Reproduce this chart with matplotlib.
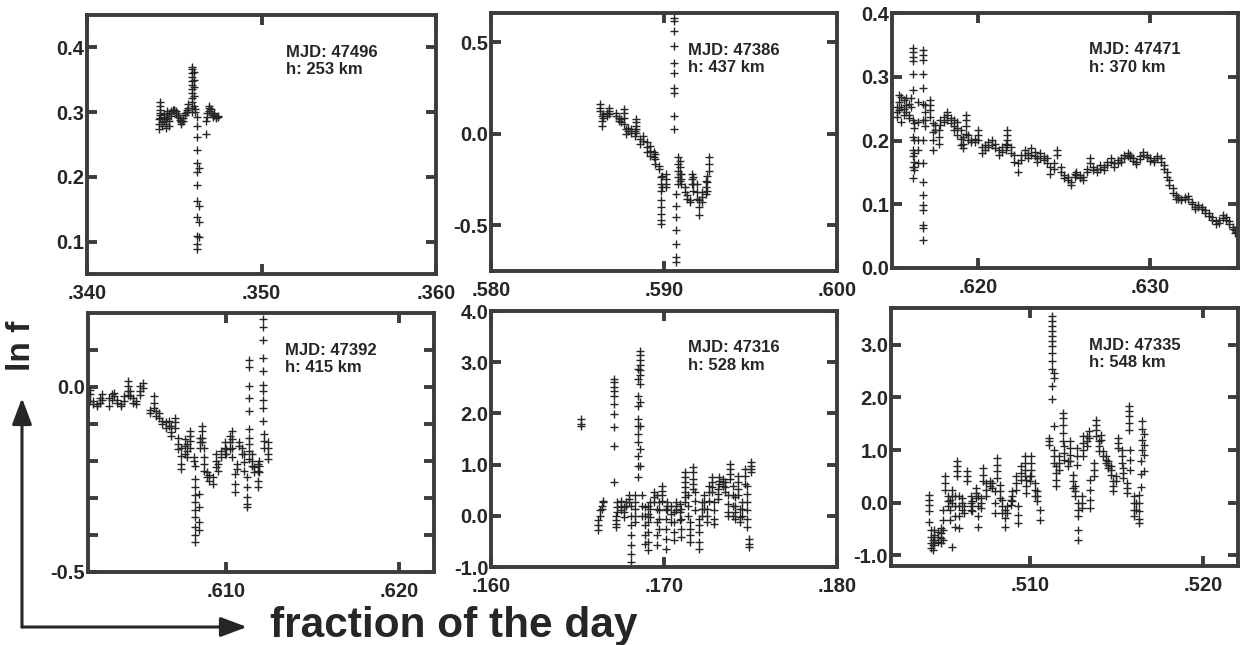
import matplotlib
matplotlib.use('Agg')
import matplotlib.pyplot as plt

plt.rcParams['font.family'] = ['Liberation Sans', 'DejaVu Sans']
plt.rcParams['font.weight'] = 'bold'
plt.rcParams['axes.unicode_minus'] = False

INK = '#262626'
FRAME = '#3c3c3c'

# ---- MJD 47496, h 253 km ----
p1_time = [0.3441, 0.3442, 0.3443, 0.3444, 0.3445, 0.3446, 0.3447, 0.3448, 0.3449, 0.3450,
           0.3451, 0.3452, 0.3453, 0.3454, 0.3455, 0.3456, 0.3457, 0.3458, 0.3460, 0.3461,
           0.3462, 0.3463, 0.3464, 0.3468, 0.3469, 0.3470, 0.3471, 0.3472, 0.3473, 0.3474,
           0.3475]
p1_lnf = [
    [0.274, 0.281, 0.289], [0.296, 0.303, 0.309, 0.315, 0.299, 0.291], [0.284, 0.279],
    [0.287, 0.293, 0.297], [0.289, 0.282, 0.276], [0.291, 0.297, 0.301], [0.298, 0.286, 0.279],
    [0.294, 0.301], [0.303, 0.302], [0.304, 0.303],
    [0.301, 0.298], [0.296, 0.293], [0.291, 0.288], [0.286, 0.284, 0.282], [0.287, 0.291],
    [0.295, 0.298], [0.300, 0.303], [0.307, 0.313],
    [0.300, 0.307, 0.315, 0.322, 0.329, 0.336, 0.342, 0.348, 0.354, 0.360, 0.366, 0.370],
    [0.310, 0.325, 0.338, 0.350, 0.362],
    [0.305, 0.300],
    [0.293, 0.278, 0.261, 0.242, 0.222, 0.208, 0.188, 0.162, 0.138, 0.108, 0.096, 0.088],
    [0.214, 0.155, 0.130, 0.107],
    [0.266, 0.286], [0.292, 0.298], [0.302, 0.307, 0.310], [0.305, 0.299], [0.296, 0.293],
    [0.298, 0.295], [0.293, 0.291], [0.294, 0.292],
]

# ---- MJD 47386, h 437 km ----
p2_time = [0.5863, 0.5864, 0.5865, 0.5867, 0.5868, 0.5872, 0.5874, 0.5875, 0.5877, 0.5878,
           0.5879, 0.5881, 0.5883, 0.5884, 0.5886, 0.5888, 0.5890, 0.5892, 0.5894, 0.5895,
           0.5897, 0.5898, 0.5899, 0.5901, 0.5906, 0.5907, 0.5908, 0.5909, 0.5910, 0.5912,
           0.5913, 0.5915, 0.5916, 0.5917, 0.5919, 0.5920, 0.5922, 0.5924, 0.5925, 0.5926]
p2_lnf = [
    [0.161, 0.143, 0.125], [0.098, 0.071, 0.043], [0.107, 0.089], [0.116, 0.098],
    [0.143, 0.125, 0.107], [0.116, 0.098], [0.089, 0.071], [0.062, 0.080],
    [0.134, 0.116, 0.089, 0.052], [0.025, -0.002],
    [0.034, 0.016], [0.025, 0.007], [0.016, -0.011], [0.080, 0.062, 0.043, 0.025, 0.007],
    [-0.029, -0.056], [-0.011, -0.038], [-0.047, -0.074, -0.102], [-0.065, -0.092, -0.120],
    [-0.102, -0.129], [-0.111, -0.138, -0.165],
    [-0.174, -0.192], [-0.237, -0.274, -0.310, -0.364, -0.401, -0.437, -0.473, -0.491],
    [-0.228, -0.292], [-0.219, -0.246, -0.274, -0.292],
    [0.632, 0.614, 0.560, 0.478, 0.388, 0.333, 0.252, 0.225, 0.098, 0.025],
    [-0.328, -0.392, -0.455, -0.527, -0.600, -0.672, -0.700],
    [-0.129, -0.165, -0.201, -0.237, -0.274], [-0.147, -0.183, -0.219, -0.256],
    [-0.219, -0.246, -0.274], [-0.292, -0.319],
    [-0.337, -0.355], [-0.364, -0.373], [-0.219, -0.246, -0.274], [-0.237, -0.274, -0.310],
    [-0.274, -0.319, -0.355], [-0.364, -0.401, -0.446], [-0.319, -0.346, -0.373],
    [-0.256, -0.292, -0.328], [-0.228, -0.265, -0.310], [-0.129, -0.165, -0.201],
]

# ---- MJD 47471, h 370 km ----
p3_time = [0.6153, 0.6154, 0.6155, 0.6157, 0.6158, 0.6160, 0.6161, 0.6162, 0.6163, 0.6165,
           0.6168, 0.6169, 0.6172, 0.6174, 0.6175, 0.6177, 0.6178, 0.6180, 0.6182, 0.6184,
           0.6186, 0.6188, 0.6190, 0.6191, 0.6193, 0.6194, 0.6196, 0.6198, 0.6200, 0.6202,
           0.6204, 0.6206, 0.6208, 0.6210, 0.6212, 0.6214, 0.6216, 0.6217, 0.6219, 0.6221,
           0.6223, 0.6225, 0.6227, 0.6229, 0.6231, 0.6233, 0.6234, 0.6236, 0.6238, 0.6240,
           0.6242, 0.6244, 0.6246, 0.6248, 0.6250, 0.6252, 0.6254, 0.6256, 0.6257, 0.6259,
           0.6261, 0.6263, 0.6265, 0.6267, 0.6269, 0.6271, 0.6273, 0.6275, 0.6277, 0.6279,
           0.6281, 0.6283, 0.6285, 0.6287, 0.6288, 0.6290, 0.6292, 0.6294, 0.6296, 0.6298,
           0.6300, 0.6302, 0.6304, 0.6306, 0.6308, 0.6310, 0.6311, 0.6313, 0.6315, 0.6316,
           0.6318, 0.6320, 0.6322, 0.6324, 0.6326, 0.6328, 0.6330, 0.6332, 0.6334, 0.6336,
           0.6338, 0.6340, 0.6342, 0.6344, 0.6346, 0.6348, 0.6349, 0.6350]
p3_lnf = [
    [0.253, 0.245, 0.237], [0.271, 0.261, 0.248], [0.269, 0.253, 0.229], [0.263, 0.250, 0.240],
    [0.266, 0.256, 0.245], [0.258, 0.240, 0.235], [0.266, 0.253],
    [0.345, 0.339, 0.331, 0.324, 0.305, 0.279, 0.232, 0.206, 0.185, 0.175, 0.159, 0.141],
    [0.227, 0.219, 0.201, 0.180, 0.167, 0.159, 0.154], [0.261, 0.229, 0.201, 0.185, 0.164],
    [0.342, 0.334, 0.326, 0.305, 0.282, 0.258, 0.232, 0.201, 0.164, 0.135, 0.114, 0.099,
     0.091, 0.067, 0.062, 0.044],
    [0.256, 0.245, 0.232, 0.222], [0.264, 0.256, 0.248, 0.237], [0.227, 0.214, 0.201, 0.185],
    [0.224, 0.216], [0.216, 0.206, 0.195], [0.232, 0.224], [0.237, 0.229], [0.245, 0.240, 0.232],
    [0.235, 0.227],
    [0.232, 0.222, 0.216], [0.229, 0.219, 0.209], [0.216, 0.203, 0.193], [0.206, 0.195, 0.188],
    [0.240, 0.232, 0.222, 0.211], [0.209, 0.201], [0.201, 0.197], [0.203, 0.198],
    [0.216, 0.209, 0.201], [0.190, 0.180],
    [0.193, 0.185], [0.198, 0.190], [0.201, 0.193], [0.195, 0.188], [0.185, 0.177],
    [0.190, 0.182], [0.195, 0.185], [0.216, 0.209, 0.201, 0.193], [0.190, 0.180], [0.177, 0.167],
    [0.164, 0.151], [0.177, 0.169], [0.185, 0.177], [0.180, 0.172], [0.188, 0.177],
    [0.182, 0.175], [0.172, 0.167], [0.180, 0.172], [0.175, 0.169], [0.172, 0.164],
    [0.159, 0.148], [0.164, 0.156], [0.185, 0.177], [0.159, 0.151], [0.146, 0.141],
    [0.143, 0.138], [0.135, 0.130], [0.148, 0.143], [0.151, 0.146], [0.146, 0.141],
    [0.143, 0.138], [0.156, 0.151], [0.172, 0.164], [0.159, 0.154], [0.156, 0.151],
    [0.161, 0.156], [0.159, 0.154], [0.167, 0.161], [0.172, 0.167], [0.164, 0.159],
    [0.169, 0.164], [0.172, 0.167], [0.177, 0.172], [0.180, 0.175], [0.177, 0.174],
    [0.172, 0.168], [0.167, 0.163], [0.175, 0.171], [0.182, 0.177], [0.177, 0.174],
    [0.172, 0.168], [0.170, 0.167], [0.176, 0.172], [0.172, 0.167], [0.161, 0.156],
    [0.151, 0.143], [0.138, 0.130], [0.125, 0.117], [0.114, 0.109], [0.112, 0.108],
    [0.109, 0.106], [0.112, 0.108], [0.113, 0.109], [0.104, 0.100], [0.096, 0.092],
    [0.099, 0.095], [0.096, 0.092], [0.091, 0.087], [0.086, 0.082], [0.080, 0.076],
    [0.073, 0.069], [0.075, 0.071], [0.083, 0.079], [0.080, 0.076], [0.073, 0.069],
    [0.065, 0.061], [0.060, 0.055], [0.057],
]

# ---- MJD 47392, h 415 km ----
p4_time = [0.6021, 0.6023, 0.6025, 0.6027, 0.6028, 0.6032, 0.6034, 0.6035, 0.6037, 0.6039,
           0.6041, 0.6043, 0.6044, 0.6046, 0.6048, 0.6050, 0.6052, 0.6056, 0.6058, 0.6059,
           0.6061, 0.6063, 0.6065, 0.6067, 0.6068, 0.6070, 0.6072, 0.6074, 0.6076, 0.6077,
           0.6079, 0.6081, 0.6082, 0.6084, 0.6085, 0.6086, 0.6087, 0.6089, 0.6090, 0.6092,
           0.6094, 0.6095, 0.6097, 0.6099, 0.6100, 0.6102, 0.6103, 0.6105, 0.6106, 0.6107,
           0.6109, 0.6110, 0.6112, 0.6113, 0.6115, 0.6116, 0.6118, 0.6119, 0.6121, 0.6122,
           0.6124]
p4_lnf = [
    [-0.007, -0.020, -0.038], [-0.038, -0.047], [-0.047, -0.052], [-0.029, -0.043],
    [-0.020, -0.034], [-0.029, -0.052], [-0.020, -0.034], [-0.016, -0.025], [-0.034, -0.043],
    [-0.047, -0.052],
    [-0.025, -0.038], [0.015, 0.002, -0.011, -0.022], [-0.011, -0.025], [-0.029, -0.043],
    [-0.038, -0.045], [0.002, -0.011, -0.022], [0.011, -0.003], [-0.061, -0.070],
    [-0.025, -0.043, -0.056], [-0.065, -0.079],
    [-0.070, -0.083], [-0.092, -0.101], [-0.096, -0.110], [-0.092, -0.105],
    [-0.105, -0.123, -0.132], [-0.083, -0.096, -0.110], [-0.137, -0.154, -0.168],
    [-0.164, -0.186, -0.208, -0.222], [-0.141, -0.159, -0.181], [-0.154, -0.172, -0.190],
    [-0.119, -0.132, -0.146, -0.164], [-0.190, -0.199],
    [-0.213, -0.248, -0.271, -0.293, -0.311, -0.333, -0.351, -0.378, -0.400, -0.418],
    [-0.289, -0.324, -0.365, -0.387], [-0.137, -0.150, -0.164], [-0.105, -0.119, -0.137, -0.150],
    [-0.164, -0.190, -0.208, -0.226], [-0.230, -0.244], [-0.239, -0.253], [-0.244, -0.262],
    [-0.181, -0.199, -0.217], [-0.208, -0.226], [-0.172, -0.190], [-0.150, -0.164, -0.181],
    [-0.168, -0.181], [-0.132, -0.150, -0.168], [-0.119, -0.141, -0.164, -0.190],
    [-0.235, -0.262, -0.284], [-0.208, -0.222], [-0.150, -0.159],
    [-0.164, -0.181], [-0.181, -0.204, -0.226], [-0.244, -0.271, -0.298, -0.315, -0.324],
    [0.073, 0.055, 0.002, -0.029, -0.065, -0.114, -0.137, -0.154, -0.172, -0.195],
    [-0.181, -0.199, -0.213], [-0.217, -0.230], [-0.208, -0.226, -0.253, -0.271],
    [-0.199, -0.213, -0.230],
    [0.185, 0.163, 0.127, 0.078, 0.042, 0.006, -0.011, -0.034, -0.056, -0.092],
    [-0.128, -0.146, -0.164], [-0.150, -0.164, -0.181, -0.195],
]

# ---- MJD 47316, h 528 km ----
p5_time = [0.1652, 0.1662, 0.1663, 0.1664, 0.1665, 0.1671, 0.1672, 0.1673, 0.1675, 0.1677,
           0.1678, 0.1680, 0.1681, 0.1683, 0.1685, 0.1686, 0.1687, 0.1689, 0.1691, 0.1692,
           0.1694, 0.1696, 0.1697, 0.1699, 0.1701, 0.1702, 0.1704, 0.1706, 0.1707, 0.1709,
           0.1710, 0.1712, 0.1714, 0.1715, 0.1717, 0.1718, 0.1720, 0.1722, 0.1723, 0.1725,
           0.1726, 0.1728, 0.1729, 0.1731, 0.1732, 0.1734, 0.1735, 0.1737, 0.1738, 0.1740,
           0.1741, 0.1743, 0.1744, 0.1745, 0.1747, 0.1748, 0.1749, 0.1750]
p5_lnf = [
    [1.893, 1.795, 1.749], [-0.286, -0.189, -0.091], [0.006, 0.104], [0.136, 0.201],
    [0.267, 0.299],
    [2.673, 2.608, 2.510, 2.445, 2.348, 2.185, 1.990, 1.730, 1.372, 0.657],
    [0.006, -0.091, -0.156, -0.221], [0.267, 0.169, 0.071], [0.299, 0.201, 0.104],
    [0.169, 0.071, -0.026],
    [0.267, 0.201], [0.397, 0.331, 0.267], [0.201, 0.006, -0.189, -0.384, -0.579, -0.742, -0.904],
    [0.397, 0.267, 0.136, 0.006, -0.124],
    [2.868, 2.673, 2.348, 2.153, 1.892, 1.762, 1.600, 1.437, 1.177, 0.982, 0.754],
    [3.22, 3.15, 3.05, 2.95, 2.85, 2.75, 2.575, 2.218, 1.762, 1.307, 0.982],
    [0.397, 0.201, 0.006], [0.169, 0.006, -0.189, -0.384, -0.547],
    [0.201, 0.039, -0.124, -0.319, -0.514, -0.677], [0.267, 0.136, -0.026],
    [0.462, 0.364, 0.267], [0.397, 0.136, -0.124, -0.384, -0.579], [0.267, 0.104, -0.059, -0.254],
    [0.592, 0.494, 0.397, 0.299], [0.136, -0.059, -0.254, -0.449, -0.644], [0.267, 0.201, 0.104],
    [0.201, 0.039, -0.124], [0.071, -0.124, -0.319, -0.482], [0.267, 0.201, 0.104],
    [0.234, 0.071, -0.091],
    [0.136, -0.059, -0.254, -0.417], [0.852, 0.754, 0.657, 0.559, 0.462, 0.364, 0.267],
    [0.397, 0.201, 0.006], [-0.124, -0.254, -0.384, -0.514], [0.950, 0.852, 0.722, 0.624, 0.527],
    [0.462, 0.299, 0.104], [-0.059, -0.189, -0.319, -0.514, -0.644], [0.267, 0.136, 0.006],
    [0.397, 0.267, 0.136], [0.136, 0.006, -0.124],
    [0.592, 0.462, 0.299], [0.754, 0.657, 0.559, 0.462], [0.267, 0.104, -0.059, -0.156],
    [0.527, 0.429, 0.332], [0.754, 0.689, 0.624], [0.722, 0.657, 0.592], [0.657, 0.559, 0.462],
    [0.397, 0.234, 0.071, 0.006], [1.014, 0.917, 0.819, 0.722], [0.592, 0.397, 0.201, 0.006],
    [0.364, 0.201, 0.071, -0.059], [0.787, 0.657, 0.527, 0.397], [0.136, -0.026, -0.124],
    [0.267, 0.136, 0.006], [0.917, 0.787, 0.624], [0.592, 0.429, 0.267, 0.104, -0.059, -0.221],
    [-0.449, -0.547, -0.612], [1.047, 0.982, 0.917, 0.852],
]

# ---- MJD 47335, h 548 km ----
p6_time = [0.5042, 0.5043, 0.5044, 0.5045, 0.5047, 0.5049, 0.5050, 0.5051, 0.5053, 0.5054,
           0.5055, 0.5057, 0.5058, 0.5059, 0.5061, 0.5062, 0.5064, 0.5066, 0.5067, 0.5069,
           0.5070, 0.5072, 0.5073, 0.5075, 0.5077, 0.5078, 0.5080, 0.5081, 0.5083, 0.5084,
           0.5086, 0.5087, 0.5089, 0.5090, 0.5092, 0.5093, 0.5095, 0.5097, 0.5098, 0.5100,
           0.5101, 0.5103, 0.5104, 0.5106, 0.5111, 0.5113, 0.5114, 0.5115, 0.5117, 0.5119,
           0.5120, 0.5122, 0.5123, 0.5125, 0.5126, 0.5127, 0.5128, 0.5130, 0.5131, 0.5133,
           0.5134, 0.5135, 0.5137, 0.5138, 0.5140, 0.5141, 0.5142, 0.5144, 0.5145, 0.5147,
           0.5148, 0.5150, 0.5151, 0.5153, 0.5154, 0.5156, 0.5157, 0.5158, 0.5160, 0.5161,
           0.5163, 0.5164, 0.5165, 0.5166]
p6_lnf = [
    [0.152, 0.057, -0.038, -0.165, -0.356], [-0.514, -0.641, -0.768, -0.863],
    [-0.705, -0.800, -0.895], [-0.514, -0.609, -0.705, -0.768], [-0.546, -0.641, -0.736],
    [-0.483, -0.578, -0.673, -0.768], [-0.133, -0.324, -0.514, -0.705], [0.501, 0.375, 0.248],
    [0.120, 0.025, -0.070], [0.057, -0.133, -0.324],
    [0.248, 0.120, -0.006, -0.832], [0.120, -0.070, -0.260, -0.451], [0.787, 0.692, 0.597, 0.501],
    [0.120, -0.070, -0.260, -0.483], [0.089, -0.006, -0.133], [-0.070, -0.197],
    [0.597, 0.501, 0.406], [0.120, -0.006, -0.133], [0.025, -0.070, -0.165], [0.279, 0.184, 0.089],
    [0.120, -0.070, -0.260, -0.451], [0.089, -0.006, -0.101], [0.660, 0.533, 0.406],
    [0.375, 0.248, 0.120], [0.406, 0.311], [0.375, 0.279], [0.216, -0.006, -0.197],
    [0.851, 0.724, 0.597, 0.470], [0.343, 0.216, 0.089], [0.057, -0.070, -0.197],
    [-0.133, -0.292, -0.451], [-0.070, -0.197], [0.057, -0.038], [0.216, 0.120, 0.025],
    [0.501, 0.375, 0.248], [-0.070, -0.229, -0.387], [0.692, 0.565, 0.438],
    [0.882, 0.755, 0.628, 0.501], [0.438, 0.311, 0.184], [0.501, 0.406],
    [0.882, 0.755, 0.628, 0.501], [0.375, 0.248, 0.120], [0.216, 0.120, 0.025], [-0.133, -0.324],
    [1.232, 1.168, 1.105],
    [3.549, 3.454, 3.359, 3.263, 3.168, 3.073, 2.978, 2.851, 2.692, 2.533, 2.216, 1.962],
    [2.470, 2.375, 1.454, 1.009, 0.882, 0.755], [0.692, 0.565, 0.438, 0.311],
    [0.882, 0.755, 0.628], [1.708, 1.613, 1.486, 1.327, 1.168],
    [1.073, 0.946, 0.819], [0.787, 0.692], [1.168, 1.041, 0.914, 0.787], [0.533, 0.406, 0.279],
    [0.311, 0.216, 0.120], [1.041, 0.882, 0.724], [-0.006, -0.133, -0.260, -0.514, -0.705],
    [0.120, -0.006, -0.101], [1.263, 1.136, 1.009, 0.882], [1.263, 1.168, 1.073],
    [1.359, 1.232], [0.438, 0.248, 0.057, -0.101], [0.755, 0.628, 0.501],
    [1.581, 1.486, 1.391, 1.263], [1.168, 1.073, 0.978], [1.295, 1.200], [0.978, 0.882],
    [0.882, 0.819, 0.755], [0.787, 0.724, 0.660], [0.692, 0.628, 0.533],
    [0.406, 0.311, 0.216], [0.501, 0.406], [1.232, 1.136, 1.041], [1.009, 0.882, 0.755],
    [0.660, 0.565, 0.470], [0.375, 0.279, 0.184], [1.835, 1.740, 1.644, 1.517, 1.390],
    [1.009, 0.819, 0.628], [0.120, -0.006, -0.133, -0.260], [-0.006, -0.133],
    [0.15, 0.0, -0.15, -0.30, -0.38], [0.30, 0.55, 0.80], [1.0, 1.2, 1.4, 1.55],
    [1.3, 1.1, 0.9, 0.6],
]

labels = ['MJD: 47496\nh: 253 km', 'MJD: 47386\nh: 437 km', 'MJD: 47471\nh: 370 km',
          'MJD: 47392\nh: 415 km', 'MJD: 47316\nh: 528 km', 'MJD: 47335\nh: 548 km']


def day_label(v):
    # '.340' style, no leading zero
    return ('%.3f' % v)[1:]


def draw_panel(rect, times, lnf, xlim, xticks, ylim, yticks, ylabels, label):
    ax = fig.add_axes(rect)
    for t, vals in zip(times, lnf):
        ax.plot([t] * len(vals), vals, '+', ms=5.5, mew=1.0, color=INK)
    ax.set_xlim(xlim)
    ax.set_ylim(ylim)
    ax.set_xticks(xticks)
    ax.set_xticklabels([day_label(v) for v in xticks])
    ax.set_yticks(yticks)
    ax.set_yticklabels(ylabels)
    ax.tick_params(direction='in', length=7, width=2.8, color=FRAME,
                   top=True, right=True, labelsize=14.5, labelcolor=INK)
    ax.tick_params(axis='x', pad=7)
    ax.tick_params(axis='y', pad=2)
    for sp in ax.spines.values():
        sp.set_linewidth(2.8)
        sp.set_color(FRAME)
    ax.text(0.57, 0.885, label, transform=ax.transAxes, fontsize=12, fontweight='bold',
            va='top', ha='left', color=INK, linespacing=1.2)
    return ax


fig = plt.figure(figsize=(12.4, 6.45), dpi=100)

draw_panel([0.0702, 0.5752, 0.2815, 0.4016], p1_time, p1_lnf,
           (0.340, 0.360), [0.340, 0.350, 0.360],
           (0.05, 0.45), [0.1, 0.2, 0.3, 0.4], ['0.1', '0.2', '0.3', '0.4'], labels[0])
draw_panel([0.3960, 0.5798, 0.2790, 0.4000], p2_time, p2_lnf,
           (0.580, 0.600), [0.580, 0.590, 0.600],
           (-0.75, 0.66), [-0.5, 0.0, 0.5], ['-0.5', '0.0', '0.5'], labels[1])
draw_panel([0.7194, 0.5845, 0.2790, 0.3953], p3_time, p3_lnf,
           (0.615, 0.6351), [0.620, 0.630],
           (0.0, 0.4), [0.0, 0.1, 0.2, 0.3, 0.4], ['0.0', '0.1', '0.2', '0.3', '0.4'], labels[2])
draw_panel([0.0710, 0.1132, 0.2790, 0.4016], p4_time, p4_lnf,
           (0.602, 0.622), [0.610, 0.620],
           (-0.5, 0.2), [-0.5, -0.4, -0.3, -0.2, -0.1, 0.0, 0.1],
           ['-0.5', '', '', '', '', '0.0', ''], labels[3])
draw_panel([0.3960, 0.1209, 0.2790, 0.3969], p5_time, p5_lnf,
           (0.160, 0.180), [0.160, 0.170, 0.180],
           (-1.0, 4.0), [-1, 0, 1, 2, 3, 4], ['-1.0', '0.0', '1.0', '2.0', '3.0', '4.0'], labels[4])
draw_panel([0.7185, 0.1225, 0.2798, 0.4000], p6_time, p6_lnf,
           (0.502, 0.522), [0.510, 0.520],
           (-1.2, 3.7), [-1, 0, 1, 2, 3], ['-1.0', '0.0', '1.0', '2.0', '3.0'], labels[5])

# axis arrows and captions
corner = (22 / 1240, 1 - 627 / 645)
head = dict(arrowstyle='-|>,head_length=0.8,head_width=0.3', lw=2.2, color=INK,
            mutation_scale=20, shrinkA=0, shrinkB=0)
fig.add_artist(plt.Annotation('', xy=(22 / 1240, 1 - 398 / 645), xytext=corner,
                              xycoords='figure fraction', arrowprops=head))
fig.add_artist(plt.Annotation('', xy=(247 / 1240, 1 - 627 / 645), xytext=corner,
                              xycoords='figure fraction', arrowprops=head))
fig.text(22 / 1240, 1 - 346 / 645, 'ln f', rotation=90, fontsize=24, fontweight='bold',
         ha='center', va='center', color=INK)
fig.text(270 / 1240, 1 - 637 / 645, 'fraction of the day', fontsize=30.5, fontweight='bold',
         ha='left', va='baseline', color=INK)

fig.savefig('out.png', dpi=100)
